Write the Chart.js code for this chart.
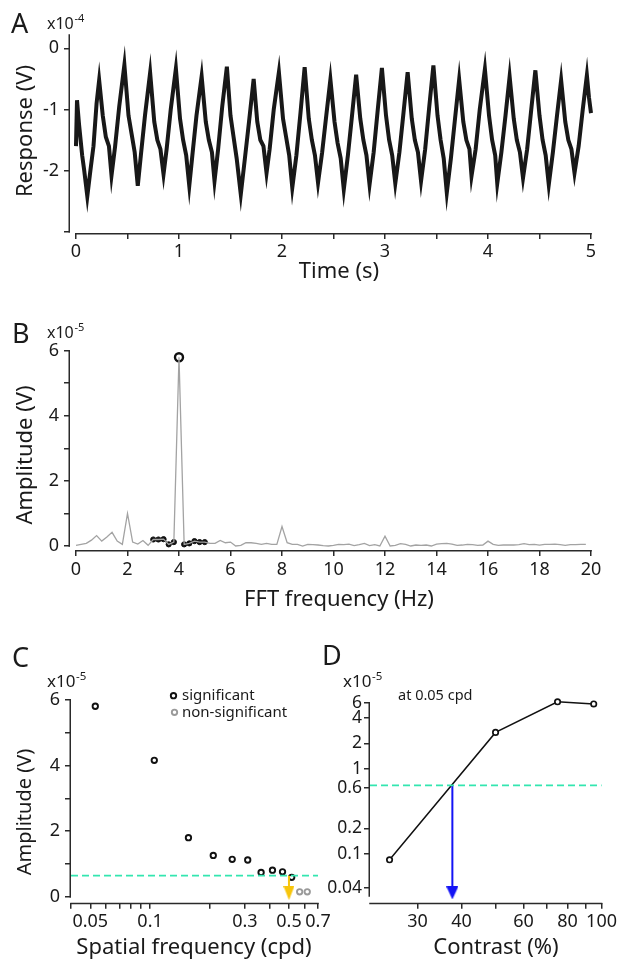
<!DOCTYPE html>
<html><head><meta charset="utf-8">
<script src="https://cdn.jsdelivr.net/npm/chart.js@4.4.1/dist/chart.umd.min.js"></script>
<style>
html,body{margin:0;padding:0;background:#fff;}
#wrap{position:relative;width:619px;height:961px;background:#fff;}
canvas{position:absolute;left:0;top:0;}
</style></head><body>
<div id="wrap">
<canvas id="cA" width="619" height="961"></canvas>
<canvas id="cB" width="619" height="961"></canvas>
<canvas id="cC" width="619" height="961"></canvas>
<canvas id="cD" width="619" height="961"></canvas>
</div>
<script>
// ---------- DATA ----------
// Panel A: response trace (x10^-4 V) vs time (s)
const timeA = [0.00,0.01,0.03,0.06,0.08,0.11,0.14,0.17,0.20,0.225,
 0.26,0.29,0.32,0.345,0.38,0.42,0.47,
 0.51,0.54,0.57,0.60,0.63,0.67,0.72,
 0.76,0.79,0.82,0.85,0.88,0.92,0.97,
 1.01,1.04,1.07,1.10,1.13,1.17,1.22,
 1.26,1.29,1.32,1.345,1.38,1.42,1.465,
 1.50,1.53,1.56,1.60,1.64,1.68,1.725,
 1.76,1.79,1.82,1.85,1.88,1.92,1.97,
 2.01,2.04,2.07,2.10,2.14,2.18,2.22,
 2.26,2.29,2.32,2.35,2.39,2.43,2.47,
 2.51,2.54,2.57,2.60,2.64,2.68,2.72,
 2.76,2.79,2.82,2.85,2.89,2.93,2.97,
 3.01,3.04,3.07,3.10,3.14,3.18,3.22,
 3.26,3.29,3.32,3.35,3.39,3.43,3.47,
 3.51,3.54,3.57,3.60,3.64,3.68,3.72,
 3.76,3.79,3.82,3.84,3.88,3.92,3.97,
 4.01,4.04,4.07,4.09,4.13,4.17,4.21,
 4.25,4.28,4.31,4.34,4.38,4.42,4.46,
 4.50,4.53,4.56,4.59,4.63,4.67,4.71,
 4.75,4.78,4.81,4.84,4.88,4.92,4.96,
 4.98,5.00];
const respA = [-1.60,-0.85,-1.25,-1.75,-2.00,-2.42,-2.00,-1.60,-0.90,-0.52,
 -1.10,-1.45,-1.60,-2.08,-1.60,-0.95,-0.27,
 -1.10,-1.40,-1.70,-2.25,-1.75,-1.10,-0.40,
 -1.20,-1.50,-1.65,-2.06,-1.65,-1.00,-0.33,
 -1.15,-1.50,-1.75,-2.25,-1.75,-1.10,-0.46,
 -1.20,-1.50,-1.70,-2.17,-1.65,-0.95,-0.30,
 -1.10,-1.45,-1.80,-2.39,-1.80,-1.20,-0.50,
 -1.20,-1.50,-1.60,-2.04,-1.65,-1.00,-0.39,
 -1.15,-1.45,-1.75,-2.28,-1.75,-1.05,-0.31,
 -1.15,-1.50,-1.75,-2.20,-1.70,-1.10,-0.51,
 -1.20,-1.55,-1.80,-2.31,-1.75,-1.10,-0.43,
 -1.15,-1.50,-1.75,-2.23,-1.70,-1.00,-0.32,
 -1.10,-1.50,-1.75,-2.21,-1.70,-1.05,-0.39,
 -1.15,-1.50,-1.70,-2.17,-1.65,-0.95,-0.28,
 -1.10,-1.50,-1.80,-2.36,-1.80,-1.15,-0.51,
 -1.20,-1.50,-1.65,-2.09,-1.65,-1.00,-0.34,
 -1.10,-1.50,-1.75,-2.21,-1.70,-1.10,-0.46,
 -1.15,-1.50,-1.70,-2.12,-1.65,-1.00,-0.36,
 -1.10,-1.50,-1.75,-2.23,-1.70,-1.10,-0.52,
 -1.20,-1.50,-1.65,-2.04,-1.60,-1.00,-0.44,
 -0.80,-1.06];

// Panel B: FFT amplitude (x10^-5 V) vs frequency (Hz)
const fftFreq = [0.0,0.2,0.4,0.6,0.8,1.0,1.2,1.4,1.6,1.8,2.0,2.2,2.4,2.6,2.8,3.0,3.2,3.4,3.6,3.8,
 4.0,4.2,4.4,4.6,4.8,5.0,5.2,5.4,5.6,5.8,6.0,6.2,6.4,6.6,6.8,7.0,7.2,7.4,7.6,7.8,
 8.0,8.2,8.4,8.6,8.8,9.0,9.2,9.4,9.6,9.8,10.0,10.2,10.4,10.6,10.8,11.0,11.2,11.4,11.6,11.8,
 12.0,12.2,12.4,12.6,12.8,13.0,13.2,13.4,13.6,13.8,14.0,14.2,14.4,14.6,14.8,15.0,15.2,15.4,15.6,15.8,
 16.0,16.2,16.4,16.6,16.8,17.0,17.2,17.4,17.6,17.8,18.0,18.2,18.4,18.6,18.8,19.0,19.2,19.4,19.6,19.8];
const fftAmp = [0.02,0.05,0.08,0.18,0.32,0.15,0.28,0.42,0.15,0.05,1.00,0.12,0.06,0.17,0.02,0.20,0.20,0.21,0.05,0.12,
 5.80,0.05,0.08,0.15,0.12,0.12,0.08,0.08,0.17,0.10,0.12,0.00,0.02,0.10,0.10,0.08,0.05,0.08,0.05,0.05,
 0.60,0.10,0.05,0.05,0.00,0.05,0.04,0.03,0.01,0.00,0.02,0.05,0.04,0.06,0.01,0.04,0.08,0.01,0.04,0.00,
 0.30,0.00,0.02,0.07,0.05,0.00,0.03,0.02,0.03,0.00,0.06,0.07,0.08,0.06,0.02,0.03,0.05,0.04,0.02,0.03,
 0.15,0.05,0.02,0.03,0.03,0.03,0.04,0.07,0.04,0.05,0.03,0.05,0.05,0.06,0.04,0.02,0.04,0.04,0.05,0.05];
const noiseFreq = [3.0,3.2,3.4,3.6,3.8,4.0,4.2,4.4,4.6,4.8,5.0];
const noiseAmp  = [0.20,0.20,0.21,0.05,0.12,null,0.05,0.08,0.15,0.12,0.12];
const peakFreq = [4.0];
const peakAmp  = [5.8];

// Panel C: amplitude (x10^-5 V) vs spatial frequency (cpd)
const sfSig  = [0.053,0.105,0.156,0.208,0.259,0.310,0.362,0.413,0.464,0.516];
const ampSig = [5.81,4.16,1.80,1.26,1.14,1.12,0.74,0.81,0.76,0.59];
const sfNon  = [0.566,0.618];
const ampNon = [0.15,0.15];
const noiseThreshold = 0.64;
const acuityCpd = 0.5;

// Panel D: amplitude (x10^-5 V) vs contrast (%) at 0.05 cpd
const contrastD = [25,50,75,95];
const ampD      = [0.085,2.70,6.20,5.85];
const contrastThreshold = 37.7;

// Tick values / labels
const ticksAx = [0,0.5,1,1.5,2,2.5,3,3.5,4,4.5,5];
const labelsAx = ['0','','1','','2','','3','','4','','5'];
const ticksAy = [0,-1,-2,-3];
const labelsAy = ['0','-1','-2',''];
const ticksBx = [0,2,4,6,8,10,12,14,16,18,20];
const labelsBx = ['0','2','4','6','8','10','12','14','16','18','20'];
const ticksBy = [0,1,2,3,4,5,6];
const labelsBy = ['0','','2','','4','','6'];
const ticksCx = [0.04,0.05,0.06,0.07,0.08,0.09,0.1,0.2,0.3,0.4,0.5,0.6,0.7];
const labelsCx = ['','0.05','','','','','0.1','','0.3','','0.5','','0.7'];
const ticksCy = [0,1,2,3,4,5,6];
const labelsCy = ['0','','2','','4','','6'];
const ticksDx = [30,40,50,60,70,80,90,100];
const labelsDx = ['30','40','','60','','80','','100'];
const ticksDy = [0.04,0.1,0.2,0.6,1,2,4,6];
const labelsDy = ['0.04','0.1','0.2','0.6','1','2','4','6'];

// ---------- STYLE / HELPERS ----------
const FONT = "'Noto Sans', 'Open Sans', sans-serif";
const INK = '#1a1a1a';
const AXIS = '#2a2a2a';
const TEAL = '#33e6b0';
Chart.defaults.font.family = FONT;
Chart.defaults.color = INK;
Chart.defaults.animation = false;

function scale(o){
  return {
    type: o.type || 'linear', position: o.pos, min: o.min, max: o.max,
    grid: {display:true, drawOnChartArea:false, drawTicks:true, tickLength:o.tl||6,
           tickWidth:1.5, tickColor:AXIS, color:AXIS, lineWidth:1.5},
    border: {display:false},
    ticks: {autoSkip:false, maxRotation:0, minRotation:0, padding:o.pad, color:INK,
            font:{size:o.fs||18, family:FONT}, callback:(v,i)=>o.labels[i]},
    afterBuildTicks: s => { s.ticks = o.vals.map(v=>({value:v})); },
    afterFit: s => { if (o.pos==='bottom') s.height = o.size; else s.width = o.size; }
  };
}

function headImage(color, w, h){
  const c = document.createElement('canvas');
  c.width = w; c.height = h;
  const g = c.getContext('2d');
  g.fillStyle = color; g.beginPath();
  g.moveTo(0,0); g.lineTo(w,0); g.lineTo(w/2,h); g.closePath(); g.fill();
  return c;
}

const decor = {
  id:'decor',
  afterDraw(chart, args, o){
    const ctx = chart.ctx, xs = chart.scales.x, ys = chart.scales.y, ca = chart.chartArea;
    ctx.save();
    ctx.strokeStyle = AXIS; ctx.lineWidth = 1.5;
    if (o.xLine){ ctx.beginPath(); ctx.moveTo(xs.getPixelForValue(o.xLine[0])-0.75, ca.bottom+0.75);
      ctx.lineTo(xs.getPixelForValue(o.xLine[1])+0.75, ca.bottom+0.75); ctx.stroke(); }
    if (o.yLine){ ctx.beginPath(); ctx.moveTo(ca.left-0.75, ys.getPixelForValue(o.yLine[0])+0.75);
      ctx.lineTo(ca.left-0.75, ys.getPixelForValue(o.yLine[1])-0.75); ctx.stroke(); }
    for (const m of (o.marks||[])){
      ctx.beginPath(); ctx.arc(m.x, m.y, m.r, 0, Math.PI*2);
      ctx.strokeStyle = m.color; ctx.lineWidth = m.w; ctx.stroke();
    }
    ctx.fillStyle = INK;
    for (const t of (o.texts||[])){
      ctx.save();
      ctx.font = (t.weight||'normal') + ' ' + t.size + 'px ' + FONT;
      ctx.fillStyle = t.color || INK;
      ctx.textAlign = t.align || 'left';
      ctx.textBaseline = t.base || 'alphabetic';
      ctx.translate(t.x, t.y);
      if (t.rot) ctx.rotate(t.rot);
      ctx.fillText(t.text, 0, 0);
      ctx.restore();
    }
    ctx.restore();
  }
};
Chart.register(decor);

const baseOpts = (pad, xs, ys, deco) => ({
  responsive:false, animation:false, events:[],
  layout:{padding:pad},
  plugins:{legend:{display:false}, tooltip:{enabled:false}, decor:deco},
  scales:{x:xs, y:ys}
});
const xy = (xa, ya) => xa.map((x,i)=>({x:x, y:ya[i]}));

// ---------- PANEL A ----------
new Chart(document.getElementById('cA'), {
  type:'line',
  data:{datasets:[{data:xy(timeA, respA), borderColor:'#181818', borderWidth:4,
    pointRadius:0, tension:0, clip:false, borderJoinStyle:'miter'}]},
  options: baseOpts({left:0, top:35, right:28, bottom:0},
    scale({pos:'bottom', min:-0.058, max:5, vals:ticksAx, labels:labelsAx, pad:2, size:961-233}),
    scale({pos:'left', min:-3.021, max:0.218, vals:ticksAy, labels:labelsAy, pad:5, size:70}),
    {xLine:[0,5], yLine:[-3,0.218], texts:[
      {text:'A', x:11, y:33, size:27},
      {text:'x10', x:47, y:29, size:16},
      {text:'-4', x:74.5, y:22, size:11},
      {text:'Response (V)', x:26, y:131, size:22, align:'center', base:'middle', rot:-Math.PI/2},
      {text:'Time (s)', x:339, y:272, size:22, align:'center', base:'middle'}
    ]})
});

// ---------- PANEL B ----------
new Chart(document.getElementById('cB'), {
  type:'line',
  data:{datasets:[
    {data:xy(fftFreq, fftAmp), borderColor:'#a3a3a3', borderWidth:1.3, pointRadius:0, tension:0, clip:false},
    {data:xy(noiseFreq, noiseAmp), borderColor:'#111', borderWidth:1.5, pointRadius:2.6,
      pointBackgroundColor:'#111', pointBorderColor:'#111', pointBorderWidth:1, spanGaps:false, tension:0, clip:false},
    {data:xy(peakFreq, peakAmp), showLine:false, pointRadius:4, pointBorderWidth:2.4,
      pointBorderColor:'#111', pointBackgroundColor:'rgba(255,255,255,0)', clip:false}
  ]},
  options: baseOpts({left:0, top:350.7, right:28, bottom:0},
    scale({pos:'bottom', min:-0.233, max:20, vals:ticksBx, labels:labelsBx, pad:3, size:961-550}),
    scale({pos:'left', min:-0.123, max:6, vals:ticksBy, labels:labelsBy, pad:5, size:70}),
    {xLine:[0,20], yLine:[0,6], texts:[
      {text:'B', x:12, y:343, size:27},
      {text:'x10', x:47, y:338, size:16},
      {text:'-5', x:74.5, y:331, size:11},
      {text:'Amplitude (V)', x:26, y:455, size:22, align:'center', base:'middle', rot:-Math.PI/2},
      {text:'FFT frequency (Hz)', x:339, y:600, size:22, align:'center', base:'middle'}
    ]})
});

// ---------- PANEL C ----------
new Chart(document.getElementById('cC'), {
  type:'line',
  data:{datasets:[
    {data:[{x:0.04,y:noiseThreshold},{x:0.7,y:noiseThreshold}], borderColor:TEAL, borderWidth:1.8,
      borderDash:[7,4], pointRadius:0, clip:false},
    {data:[{x:acuityCpd,y:noiseThreshold},{x:acuityCpd,y:0.11}], borderColor:'#f7c50c', borderWidth:2,
      pointRadius:[0,6], pointStyle:headImage('#f7c50c',11,14), clip:false},
    {data:xy(sfSig, ampSig), showLine:false, pointRadius:2.7, pointBorderWidth:1.9,
      pointBorderColor:'#111', pointBackgroundColor:'rgba(255,255,255,0)', clip:false},
    {data:xy(sfNon, ampNon), showLine:false, pointRadius:2.7, pointBorderWidth:1.9,
      pointBorderColor:'#9a9a9a', pointBackgroundColor:'rgba(255,255,255,0)', clip:false}
  ]},
  options: baseOpts({left:0, top:700, right:619-318, bottom:0},
    scale({type:'logarithmic', pos:'bottom', min:0.04, max:0.7, vals:ticksCx, labels:labelsCx, pad:2, size:961-902.7}),
    scale({pos:'left', min:-0.183, max:6, vals:ticksCy, labels:labelsCy, pad:5, size:71}),
    {xLine:[0.04,0.7], yLine:[0,6],
     marks:[{x:173.5,y:695.7,r:2.7,w:1.9,color:'#111'},{x:174.5,y:712.3,r:2.7,w:1.9,color:'#9a9a9a'}],
     texts:[
      {text:'C', x:12, y:667, size:27},
      {text:'x10', x:47, y:687, size:17},
      {text:'-5', x:76, y:680, size:11.5},
      {text:'significant', x:182, y:696, size:15, base:'middle'},
      {text:'non-significant', x:182, y:712.5, size:15, base:'middle'},
      {text:'Amplitude (V)', x:25, y:812, size:20, align:'center', base:'middle', rot:-Math.PI/2},
      {text:'Spatial frequency (cpd)', x:194, y:948, size:22, align:'center', base:'middle'}
    ]})
});

// ---------- PANEL D ----------
new Chart(document.getElementById('cD'), {
  type:'line',
  data:{datasets:[
    {data:[{x:22,y:noiseThreshold},{x:100,y:noiseThreshold}], borderColor:TEAL, borderWidth:1.8,
      borderDash:[7,4], pointRadius:0, clip:false},
    {data:[{x:contrastThreshold,y:noiseThreshold},{x:contrastThreshold,y:0.0345}], borderColor:'#1414f5', borderWidth:2,
      pointRadius:[0,6], pointStyle:headImage('#1414f5',12,13), clip:false},
    {data:xy(contrastD, ampD), borderColor:'#111', borderWidth:1.5, tension:0, pointRadius:2.7, pointBorderWidth:1.7,
      pointBorderColor:'#111', pointBackgroundColor:'#fff', clip:false}
  ]},
  options: baseOpts({left:0, top:703, right:619-602.7, bottom:0},
    scale({type:'logarithmic', pos:'bottom', min:22, max:100, vals:ticksDx, labels:labelsDx, pad:2, size:961-902.7}),
    scale({type:'logarithmic', pos:'left', min:0.0265, max:6, vals:ticksDy, labels:labelsDy, pad:2, size:370, fs:17.5}),
    {xLine:[22,100], yLine:[0.0317,6], texts:[
      {text:'D', x:322, y:665, size:27},
      {text:'x10', x:343, y:687, size:17},
      {text:'-5', x:372, y:680, size:11.5},
      {text:'at 0.05 cpd', x:398, y:696, size:14.5, base:'middle'},
      {text:'Contrast (%)', x:496, y:948, size:22, align:'center', base:'middle'}
    ]})
});
</script>
</body></html>
